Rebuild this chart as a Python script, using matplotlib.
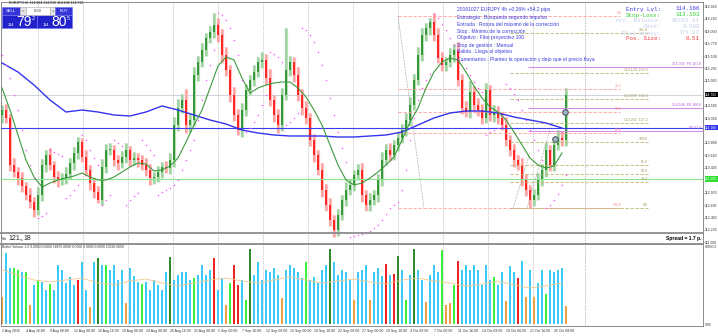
import numpy as np
import matplotlib
matplotlib.use("Agg")
import matplotlib.pyplot as plt
from matplotlib.patches import Rectangle
from matplotlib.lines import Line2D

plt.rcParams['font.family'] = ['Liberation Sans', 'DejaVu Sans']

# ---------------- data (one slot = about 2.7 H4 bars) ----------------
first_open = 114.40
closes = [
    114.504, 114.352, 113.459, 113.326, 113.212, 113.060, 112.889, 112.756, 112.604, 112.889,
    113.459, 113.649, 113.459, 113.231, 113.174, 113.212, 113.288, 113.497, 113.687, 113.896,
    113.611, 113.364, 113.117, 112.946, 112.794, 113.421, 113.744, 113.744, 113.554, 113.497,
    113.611, 113.744, 113.554, 113.592, 113.554, 113.459, 113.364, 113.212, 113.231, 113.326,
    113.421, 113.402, 113.554, 114.219, 114.542, 114.694, 114.219, 114.314, 115.169, 115.416,
    115.644, 115.872, 115.986, 116.119, 115.929, 115.549, 115.264, 114.789, 114.409, 114.124,
    114.504, 114.884, 115.074, 115.226, 115.416, 115.454, 115.112, 114.694, 114.409, 114.219,
    114.789, 115.264, 115.416, 115.169, 114.789, 114.542, 114.352, 113.934, 113.649, 113.364,
    112.984, 112.699, 112.414, 112.224, 112.509, 112.794, 112.984, 113.079, 113.269, 113.364,
    112.889, 112.699, 112.794, 112.889, 113.174, 113.554, 113.744, 113.649, 113.839, 113.972,
    114.124, 114.314, 114.599, 115.074, 115.549, 115.929, 116.062, 116.176, 115.929, 115.492,
    115.359, 115.416, 115.549, 115.644, 115.074, 114.542, 114.466, 114.846, 114.599, 114.504,
    114.352, 114.884, 114.409, 114.466, 114.352, 114.219, 113.934, 113.744, 113.554, 113.459,
    113.174, 112.984, 112.794, 112.889, 113.174, 113.364, 113.744, 113.459, 113.839, 113.972,
    113.934, 114.792,
]
up_wick_pips = [
    10, 12, 8, 14, 9, 11, 7, 13, 10, 15,
    12, 9, 14, 8, 11, 10, 13, 9, 12, 10,
    8, 14, 10, 9, 12, 15, 11, 13, 9, 10,
    12, 14, 8, 11, 10, 9, 13, 12, 10, 11,
    9, 12, 14, 16, 18, 12, 20, 14, 15, 11,
    13, 10, 12, 23, 14, 12, 16, 10, 15, 12,
    14, 11, 9, 13, 10, 15, 12, 18, 10, 12,
    14, 80, 12, 10, 16, 11, 13, 9, 12, 10,
    14, 11, 13, 10, 12, 9, 15, 11, 10, 12,
    13, 10, 14, 9, 12, 15, 11, 13, 10, 12,
    11, 14, 16, 12, 15, 13, 10, 8, 18, 14,
    12, 10, 13, 11, 16, 12, 14, 20, 11, 13,
    12, 13, 10, 14, 12, 11, 15, 10, 12, 9,
    13, 11, 10, 12, 14, 11, 13, 10, 12, 15,
    14, 13,
]
low_wick_pips = [
    14, 10, 12, 9, 13, 11, 10, 12, 13, 9,
    11, 13, 10, 12, 14, 9, 11, 10, 13, 12,
    10, 11, 13, 12, 6, 10, 12, 9, 11, 13,
    10, 12, 11, 9, 13, 10, 12, 13, 11, 10,
    12, 9, 11, 14, 12, 10, 16, 13, 11, 12,
    9, 11, 10, 12, 13, 15, 12, 14, 11, 10,
    13, 12, 10, 11, 9, 12, 14, 11, 13, 15,
    12, 10, 11, 13, 12, 14, 11, 12, 13, 10,
    14, 12, 11, 13, 12, 10, 11, 9, 12, 10,
    13, 11, 12, 10, 14, 11, 9, 12, 10, 11,
    10, 12, 11, 9, 10, 12, 11, 13, 12, 10,
    11, 12, 10, 13, 12, 11, 10, 12, 14, 11,
    12, 10, 11, 13, 12, 10, 11, 12, 13, 10,
    12, 11, 15, 12, 10, 11, 13, 12, 11, 10,
    12, 11,
]
sar = [
    115.549, 115.359, 115.112, 114.789, 114.504, 114.124, 113.744, 113.459, 113.212, 112.452,
    112.490, 112.547, 113.744, 113.706, 113.668, 113.630, 112.832, 112.889, 112.984, 113.079,
    114.029, 113.934, 113.744, 113.592, 113.459, 112.699, 112.794, 112.889, 113.934, 113.877,
    113.820, 112.699, 112.794, 112.870, 112.927, 113.934, 113.839, 113.744, 113.649, 112.889,
    112.946, 112.984, 113.022, 113.079, 113.174, 113.364, 113.554, 113.744, 113.934, 114.314,
    114.694, 115.074, 115.359, 115.644, 116.347, 116.309, 116.214, 116.062, 115.834, 115.549,
    115.074, 114.086, 114.162, 114.276, 114.409, 114.599, 114.789, 115.606, 115.568, 115.511,
    115.416, 114.219, 114.276, 114.352, 114.447, 116.062, 116.024, 115.929, 115.796, 115.606,
    115.359, 115.074, 114.732, 114.409, 114.086, 113.782, 113.516, 112.091, 112.110, 112.129,
    112.148, 112.167, 112.205, 112.262, 112.319, 112.414, 112.528, 112.642, 112.699, 112.756,
    112.984, 113.364, 113.934, 114.352, 114.694, 114.922, 115.074, 115.188, 116.328, 116.252,
    116.138, 116.024, 115.872, 115.739, 115.644, 115.454, 115.302, 115.169, 115.036, 114.922,
    114.846, 114.029, 114.086, 114.124, 114.162, 114.181, 114.998, 114.922, 114.808, 114.694,
    114.504, 114.314, 114.124, 113.934, 113.744, 113.554, 112.642, 112.699, 112.794, 112.908,
    113.079, 113.269,
]
# slow MA, sampled every 4 slots
ma_slow = [
    115.397, 115.226, 114.979, 114.694, 114.466, 114.504, 114.466, 114.409, 114.390, 114.466,
    114.580, 114.504, 114.409, 114.314, 114.238, 114.124, 114.067, 114.029, 114.010, 114.010,
    114.010, 113.991, 113.991, 114.010, 114.029, 114.086, 114.219, 114.352, 114.447, 114.485,
    114.485, 114.447, 114.371, 114.314, 114.257, 114.162,
]
# fast MA, sampled every 2 slots
ma_fast = [
    114.922, 114.504, 114.029, 113.554, 113.231, 113.041, 113.117, 113.174, 113.212, 113.250,
    113.307, 113.231, 113.174, 113.174, 113.231, 113.326, 113.421, 113.497, 113.478, 113.345,
    113.364, 113.440, 113.592, 113.896, 114.219, 114.504, 114.922, 115.340, 115.511, 115.454,
    115.112, 114.827, 114.922, 114.979, 115.017, 115.036, 115.036, 114.922, 114.751, 114.504,
    114.219, 113.839, 113.459, 113.174, 113.079, 113.117, 113.212, 113.326, 113.459, 113.611,
    113.934, 114.276, 114.542, 114.922, 115.226, 115.416, 115.492, 115.454, 115.226, 114.960,
    114.732, 114.561, 114.466, 114.314, 114.086, 113.839, 113.592, 113.459, 113.402, 113.440,
    113.687,
]
volumes = [
    33750, 88750, 70000, 70000, 67500, 65000, 65000, 23750, 48750, 55000,
    52500, 42500, 50000, 42500, 73750, 67500, 51250, 58750, 48750, 55000,
    77500, 42500, 21250, 77500, 82500, 73750, 73750, 67500, 73750, 55000,
    67500, 26250, 70000, 60000, 52500, 50000, 52500, 42500, 55000, 48750,
    42500, 65000, 83750, 55000, 61250, 65000, 65000, 55000, 57500, 61250,
    73750, 61250, 67500, 82500, 42500, 57500, 23750, 51250, 73750, 48750,
    55000, 30000, 93750, 61250, 77500, 55000, 67500, 65000, 70000, 61250,
    32500, 67500, 73750, 70000, 65000, 57500, 77500, 55000, 58750, 51250,
    67500, 73750, 93750, 77500, 61250, 67500, 65000, 55000, 30000, 65000,
    67500, 73750, 30000, 65000, 70000, 60000, 75000, 61250, 62500, 85000,
    67500, 30000, 61250, 93750, 67500, 55000, 27500, 61250, 73750, 65000,
    92500, 23750, 26250, 48750, 78750, 67500, 73750, 67500, 73750, 67500,
    48750, 73750, 55000, 58750, 48750, 65000, 28750, 72500, 65000, 57500,
    78750, 33750, 67500, 33750, 51250, 67500, 37500, 67500, 65000, 67500,
    70000, 22500,
]
vol_kind = ("obbggbgobg" "bbgbbbbbbr" "bbobdbgbbb" "bobbbgbbbb" "bbdbbbbbgb"
            "bbbrbbogrr" "bgdbbbbbbb" "obbbbbgbbb" "bbdbbbbbob" "bbobbbrbrd"
            "bgbdbbobbb" "googrbbbbb" "bbbgbbobbr" "bobobbgbbb" "bo")
vol_ma = [
    67500, 61250, 55000, 52500, 55000, 57500, 51250, 48750, 53750, 56250,
    51250, 47500, 51250, 55000, 57500, 53750, 51250, 55000, 58750, 55000,
    51250, 53750, 56250, 52500, 50000, 55000, 57500, 53750, 51250, 47500,
    50000, 53750, 48750, 45000, 47500, 51250,
]
date_labels = ["2 Aug 2016", "4 Aug 16:00", "9 Aug 08:00", "12 Aug 00:00", "16 Aug 16:00",
               "19 Aug 08:00", "24 Aug 00:00", "26 Aug 16:00", "31 Aug 08:00", "5 Sep 00:00",
               "7 Sep 16:00", "12 Sep 08:00", "15 Sep 00:00", "19 Sep 16:00", "22 Sep 08:00",
               "27 Sep 00:00", "29 Sep 16:00", "4 Oct 08:00", "7 Oct 00:00", "11 Oct 16:00",
               "14 Oct 08:00", "19 Oct 00:00", "21 Oct 16:00", "26 Oct 08:00"]
price_ticks = ["116.480", "116.240", "116.000", "115.770", "115.530", "115.295", "115.060",
               "114.585", "114.350", "113.880", "113.640", "113.405", "112.930", "112.695",
               "112.460", "112.225", "111.990"]
last_price = 114.792
entry_level = 114.166
stop_level = 113.193
retr_levels = [116.290, 114.903, 114.466, 114.067, 112.642]
retr_labels = ["0.0", "38.2", "50.0", "61.8", "100.0"]
exp_levels = [115.967, 115.207, 114.713, 114.257, 113.896, 113.459, 113.288, 113.136, 112.642]
exp_labels = ["261.8", "115.129  200.0", "114.835  161.8", "114.282  127.2", "100.0",
              "61.8", "50.0", "38.2", "0.0"]
fe_levels = [115.321, 114.542, 114.105]
fe_labels = ["115.335  FE 161.8", "114.544  FE 100.0", "FE 61.8"]
trade_marks = [113.953, 114.466]
info_lines = ["20161027 EURJPY 4h +0,26% +54,2 pips",
              "Estrategia : Búsqueda segundo impulso",
              "Entrada : Rotura del máximo de la corrección",
              "Stop : Mínimo de la corrección",
              "Objetivo : Fibo proyectivo 100",
              "Stop de gestión : Manual",
              "Salida : Llega al objetivo",
              "Comentarios : Planteo la operación y dejo que el precio fluya"]
stats = [("Entry Lvl:", "114.166", "#3a3ae6"),
         ("Stop-Loss:", "113.193", "#2fd02f"),
         ("Acc. Balance:", "95163.84", "#c9d2ea"),
         ("Risk:", "0.500", "#c9d2ea"),
         ("Risk money:", "475.82", "#c9d2ea"),
         ("Pos. Size:", "0.51", "#ff3a3a")]

# ---------------- layout helpers ----------------
W, H = 718, 336
fig = plt.figure(figsize=(W / 100, H / 100), dpi=100)
fig.patch.set_facecolor('white')

def fx(px):
    return px / W

def fy(py):
    return 1 - py / H

def sx(px):
    return (px - 2) / 4.0

ax = fig.add_axes([fx(1), fy(244), fx(703) - fx(1), fy(2) - fy(244)])
axv = fig.add_axes([fx(1), fy(326), fx(703) - fx(1), fy(244) - fy(326)])

n = len(closes)
idx = np.arange(n)
c = np.array(closes)
o = np.array([first_open] + closes[:-1])
hi = np.maximum(o, c) + np.array(up_wick_pips) * 0.01
lo = np.minimum(o, c) - np.array(low_wick_pips) * 0.01
up = c >= o

# candles
ax.vlines(idx, lo, hi, colors=np.where(up, '#b8dfb8', '#ffbcbc'), lw=2.3, zorder=2)
ax.vlines(idx, lo, hi, colors=np.where(up, '#5aac5a', '#ff5a5a'), lw=0.35, zorder=3)
ax.bar(idx, np.maximum(np.abs(c - o), 0.012), bottom=np.minimum(o, c), width=0.42,
       color=np.where(up, '#36963a', '#ff2626'), linewidth=0, zorder=3)

# moving averages & SAR
ax.plot(np.arange(0, n, 4)[:len(ma_slow)], ma_slow, color='#3434ee', lw=1.0, zorder=5)
ax.plot(np.arange(0, n, 2)[:len(ma_fast)], ma_fast, color='#3c9a3c', lw=0.8, zorder=5)
ax.scatter(idx, sar, s=1.1, color='#ff4cff', linewidths=0, zorder=6)

# horizontal levels
ax.axhline(last_price, color='#c6ccd8', lw=0.6, zorder=1)
ax.axhline(entry_level, color='#3c3cf4', lw=0.8, zorder=4)
ax.axhline(stop_level, color='#8ae68a', lw=0.8, zorder=4)
ax.hlines(retr_levels, sx(398), sx(620), colors='#ff9d9d', linestyles=(0, (4, 2)), lw=0.6, zorder=4)
ax.hlines(exp_levels, sx(510), sx(648), colors='#bdb56c', linestyles=(0, (4, 2)), lw=0.6, zorder=4)
ax.hlines(fe_levels, sx(528), sx(703), colors='#d486ea', lw=0.7, zorder=4)
for lev, lab in zip(retr_levels, retr_labels):
    ax.text(sx(622), lev + 0.02, lab, color='#ff8c8c', fontsize=2.5, ha='right', va='bottom', zorder=7)
for lev, lab in zip(exp_levels, exp_labels):
    ax.text(sx(648), lev + 0.02, lab, color='#9e9650', fontsize=2.5, ha='right', va='bottom', zorder=7)
for lev, lab in zip(fe_levels, fe_labels):
    ax.text(sx(701), lev + 0.02, lab, color='#b45ad0', fontsize=2.5, ha='right', va='bottom', zorder=7)

# dotted construction lines
ax.plot([sx(398), sx(424)], [retr_levels[0], retr_levels[-1]], color='#8a8a8a', lw=0.5, ls=(0, (1, 1.2)), zorder=4)
ax.plot([sx(513), sx(530)], [exp_levels[-1], exp_levels[4] - 0.2], color='#8a8a8a', lw=0.5, ls=(0, (1, 1.2)), zorder=4)
ax.plot([sx(527), sx(552)], [exp_levels[-1], entry_level + 0.1], color='#8a8a8a', lw=0.5, ls=(0, (1, 1.2)), zorder=4)
ax.scatter([sx(555), sx(565)], trade_marks, s=16, facecolors='#9fb6c8', edgecolors='#4f5a66',
           linewidths=0.8, zorder=8)

# separators
for k in range(12):
    for a in (ax, axv):
        a.axvline(9 + 11.25 * k, color='#9a9a9a', lw=0.5, ls=(0, (1, 1.5)), zorder=1)
for a in (ax, axv):
    a.axvline(sx(585), color='#7a7a7a', lw=0.5, ls=(0, (1, 1.5)), zorder=1)

ax.set_xlim(sx(1), sx(703))
ax.set_ylim(111.958, 116.556)
ax.set_xticks([])
ax.yaxis.tick_right()
ax.set_yticks([float(t) for t in price_ticks])
ax.set_yticklabels(price_ticks)
ax.tick_params(axis='y', labelsize=2.5, length=1.0, pad=0.6, width=0.4, colors='#333333')

# volume panel
vcol = {'b': '#3ccaf8', 'g': '#3cf03c', 'd': '#2f8a2f', 'r': '#ee2424', 'o': '#f0a040'}
axv.bar(idx, volumes, width=0.7, color=[vcol[k] for k in vol_kind], linewidth=0, zorder=2)
axv.plot(np.arange(0, n, 4)[:len(vol_ma)], vol_ma, color='#f6c68c', lw=0.6, zorder=3)
axv.set_xlim(sx(1), sx(703))
axv.set_ylim(-2500, 100000)
axv.set_yticks([])
axv.set_xticks([6 * k for k in range(len(date_labels))])
axv.set_xticklabels(date_labels, ha='left')
axv.tick_params(axis='x', labelsize=2.5, length=0, pad=2, colors='#333333')

for a in (ax, axv):
    for s in a.spines.values():
        s.set_color('#7a7a7a')
        s.set_linewidth(0.6)

# strip separators
for yy in (232.5, 243.5):
    fig.add_artist(Line2D([fx(0), fx(703)], [fy(yy), fy(yy)], transform=fig.transFigure,
                          color='#8c8c8c', lw=1.3))

# right axis special labels
for val, txt, bg, tc in [(last_price, "114.792", '#000000', 'white'),
                         (entry_level, "114.166", '#3434f0', 'white'),
                         (stop_level, "113.193", '#30e030', 'white')]:
    ax.text(1.003, val, txt, transform=ax.get_yaxis_transform(), fontsize=2.4, color=tc,
            va='center', ha='left', bbox=dict(facecolor=bg, edgecolor='none', pad=0.4), zorder=9,
            clip_on=False)

# texts
fig.text(fx(9), fy(3), "EURJPY,H4  114.684 114.818 114.648 114.792", fontsize=2.5, color='#222222', va='center')
for i, line in enumerate(info_lines):
    fig.text(fx(457), fy(10 + 7 * i), line, fontsize=3.6, color='#3c3cdc', va='center')
for i, (lab, val, col) in enumerate(stats):
    yy = fy(9 + 6 * i)
    fig.text(fx(661), yy, lab, fontsize=4.2, color=col, ha='right', va='center', family='Liberation Mono')
    fig.text(fx(700), yy, val, fontsize=4.2, color=col, ha='right', va='center', family='Liberation Mono')

# trade panel
def rect(x0, y0, x1, y1, fc, ec='none', lw=0.4):
    fig.add_artist(Rectangle((fx(x0), fy(y1)), fx(x1) - fx(x0), fy(y0) - fy(y1),
                             transform=fig.transFigure, facecolor=fc, edgecolor=ec, lw=lw))

rect(2, 15, 37, 28, '#2222cc', '#7070f0')
rect(37, 15, 72, 28, '#2222cc', '#7070f0')
rect(2, 7, 20, 15, '#3636d8', '#7070f0')
rect(20, 7, 26, 15, '#e6e6e6', '#aaaaaa')
rect(26, 7, 50, 15, '#ffffff', '#aaaaaa')
rect(50, 7, 55, 15, '#e6e6e6', '#aaaaaa')
rect(55, 7, 72, 15, '#3636d8', '#7070f0')
fig.text(fx(11), fy(11), "SELL", fontsize=3, color='white', ha='center', va='center')
fig.text(fx(23), fy(11), "=", fontsize=3, color='#444444', ha='center', va='center')
fig.text(fx(38), fy(11), "0.30", fontsize=3, color='#333333', ha='center', va='center')
fig.text(fx(52.5), fy(11), "+", fontsize=3, color='#444444', ha='center', va='center')
fig.text(fx(63.5), fy(11), "BUY", fontsize=3, color='white', ha='center', va='center')
fig.text(fx(8), fy(24.5), "114", fontsize=3, color='white', va='center')
fig.text(fx(16), fy(22), "79", fontsize=10, color='white', va='center')
fig.text(fx(32), fy(18.5), "2", fontsize=4, color='white', va='center')
fig.text(fx(43), fy(24.5), "114", fontsize=3, color='white', va='center')
fig.text(fx(51), fy(22), "80", fontsize=10, color='white', va='center')
fig.text(fx(67), fy(18.5), "5", fontsize=4, color='white', va='center')

# strip texts
fig.text(fx(1.5), fy(239.5), "Max", fontsize=2.0, color='#333333', va='center')
fig.text(fx(8), fy(238), "121", fontsize=5, color='#222222', va='center')
fig.text(fx(20), fy(240), "m", fontsize=2.2, color='#333333', va='center')
fig.text(fx(23.5), fy(238), "18", fontsize=5, color='#222222', va='center')
fig.text(fx(702), fy(238.5), "Spread = 1.7 p.", fontsize=3.6, color='black', fontweight='bold',
         ha='right', va='center')

# volume texts
fig.text(fx(2), fy(247.5), "Better Volume 1.5 0.0000 0.0000 18875.0000 0.0000 0.0000 0.0000 23326.0000",
         fontsize=2.4, color='#333333', va='center')
fig.text(fx(704.5), fy(247.5), "98930.2", fontsize=2.4, color='#333333', va='center')
fig.text(fx(704.5), fy(324.5), "0.00", fontsize=2.4, color='#333333', va='center')

fig.savefig("out.png", dpi=100)
